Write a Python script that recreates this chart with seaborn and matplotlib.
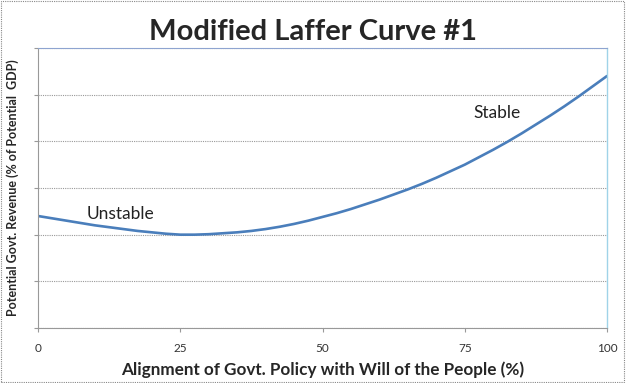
import matplotlib
matplotlib.use('Agg')
import matplotlib.pyplot as plt
import seaborn as sns
import pandas as pd
from matplotlib.patches import Rectangle

# values
alignment = [0, 2.5, 5, 7.5, 10, 12.5, 15, 17.5, 20, 22.5, 25, 27.5, 30, 32.5, 35, 37.5, 40,
             42.5, 45, 47.5, 50, 52.5, 55, 57.5, 60, 62.5, 65, 67.5, 70, 72.5, 75, 77.5, 80,
             82.5, 85, 87.5, 90, 92.5, 95, 97.5, 100]
revenue = [2.40, 2.35, 2.30, 2.25, 2.20, 2.16, 2.12, 2.08, 2.05, 2.02, 2.00, 2.00, 2.01, 2.03,
           2.05, 2.08, 2.12, 2.17, 2.23, 2.30, 2.38, 2.46, 2.55, 2.65, 2.75, 2.86, 2.97, 3.09,
           3.22, 3.36, 3.50, 3.66, 3.82, 3.99, 4.17, 4.36, 4.55, 4.75, 4.96, 5.18, 5.40]
x_ticks = [0, 25, 50, 75, 100]
x_tick_labels = ['0', '25', '50', '75', '100']

df = pd.DataFrame({'alignment': alignment, 'revenue': revenue})

sns.set_style('white')
plt.rcParams['font.family'] = ['Lato', 'DejaVu Sans']

fig, ax = plt.subplots(figsize=(6.26, 3.83), dpi=100)
fig.subplots_adjust(left=38/626, right=607/626, top=1-48/383, bottom=1-328/383)

sns.lineplot(data=df, x='alignment', y='revenue', ax=ax, color='#4a7ebb', linewidth=1.9)

ax.set_xlim(0, 100)
ax.set_ylim(0, 6)
ax.set_xticks(x_ticks)
ax.set_xticklabels(x_tick_labels, fontsize=8.5, color='#333333')
ax.set_yticks([0, 1, 2, 3, 4, 5, 6])
ax.set_yticklabels([])
ax.tick_params(axis='x', length=3, color='#999999', pad=8, bottom=True)
ax.tick_params(axis='y', length=3, color='#999999', left=True)

ax.grid(axis='y', color='#999999', linestyle=(0, (1, 1)), linewidth=0.8)
ax.grid(axis='x', visible=False)

for s in ['left', 'bottom']:
    ax.spines[s].set_color('#999999')
    ax.spines[s].set_linestyle((0, (1, 1)))
    ax.spines[s].set_linewidth(0.8)
ax.spines['bottom'].set_linestyle('-')
ax.spines['top'].set_color('#8ea4d0')
ax.spines['top'].set_linestyle((0, (1, 1)))
ax.spines['top'].set_linewidth(0.8)
ax.spines['right'].set_color('#9fd3e8')
ax.spines['right'].set_linewidth(1.0)

ax.set_xlabel('Alignment of Govt. Policy with Will of the People (%)',
              fontsize=12.3, fontweight='bold', labelpad=5)
ax.set_ylabel('Potential Govt. Revenue (% of Potential  GDP)',
              fontsize=9, fontweight='bold', labelpad=7)

ax.text(8.5, 2.45, 'Unstable', fontsize=12.5, ha='left', va='center', color='#222222')
ax.text(76.5, 4.6, 'Stable', fontsize=12.5, ha='left', va='center', color='#222222')

fig.suptitle('Modified Laffer Curve #1', fontsize=21, fontweight='bold', y=1-32/383, va='center')

fig.patches.append(Rectangle((0.002, 0.003), 0.995, 0.994, transform=fig.transFigure,
                             fill=False, edgecolor='#888888', linestyle=(0, (1, 1)), linewidth=0.8))

fig.savefig('out.png', dpi=100)
